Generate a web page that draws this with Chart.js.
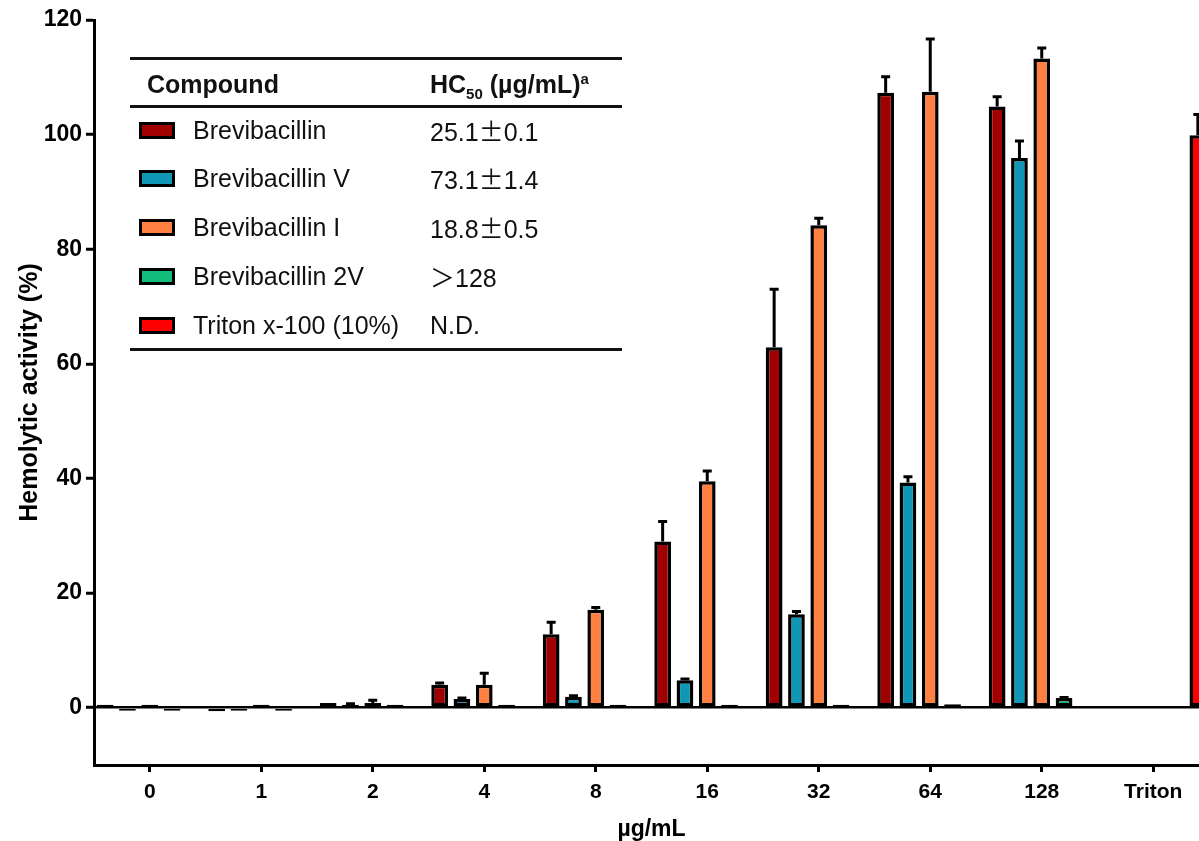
<!DOCTYPE html>
<html>
<head>
<meta charset="utf-8">
<script src="https://cdn.jsdelivr.net/npm/chart.js@4"></script>
<style>
  html, body { margin: 0; padding: 0; background: #fff; overflow: hidden; }
  #wrap { position: relative; width: 1199px; height: 841px; overflow: hidden; }
  #chart { position: absolute; left: 0; top: 0; }
  #legend { position: absolute; left: 130px; top: 57px; width: 492px; height: 300px;
            font-family: 'Liberation Sans', Arial, sans-serif; color: #111; }
  #legend .rule { position: absolute; left: 0; width: 492px; height: 3px; background: #111; }
  #legend .cell { position: absolute; height: 30px; line-height: 30px; white-space: nowrap; font-size: 25px; }
  #legend .head { font-weight: bold; }
  #legend .swatch { position: absolute; left: 9px; width: 36px; height: 17px; border: 3px solid #000; box-sizing: border-box; }
  #legend .cjk { font-family: 'Noto Sans CJK SC', sans-serif; }
  #legend sub, #legend sup { font-size: 15px; line-height: 0; }
</style>
</head>
<body>
<div id="wrap">
  <canvas id="chart" width="1209" height="841"></canvas>
  <div id="legend"></div>
</div>
<script>
// concentration groups (ug/mL)
const labels = ['0', '1', '2', '4', '8', '16', '32', '64', '128', 'Triton'];

// hemolytic activity (%)
const brevibacillin   = [0.05, -0.6, 0.8, 4.0, 12.8, 29.0, 62.9, 107.3, 104.9, null];
const brevibacillinV  = [-0.4, -0.1, 0.4, 1.5, 1.9, 4.8, 16.3, 39.3, 95.9, null];
const brevibacillinI  = [0.3, 0.1, 0.8, 4.0, 17.1, 39.5, 84.2, 107.5, 113.3, null];
const brevibacillin2V = [-0.1, -0.1, 0.1, 0.1, 0.2, 0.2, 0.4, 0.6, 1.7, null];
const triton          = [null, null, null, null, null, null, null, null, null, 99.9];

// SD (upper error bars)
const brevibacillinErr   = [0, 0, 0, 0.3, 2.1, 3.5, 10.1, 2.8, 1.7, 0];
const brevibacillinVErr  = [0, 0, 0.3, 0.2, 0.2, 0.2, 0.5, 1.0, 3.0, 0];
const brevibacillinIErr  = [0, 0, 0.5, 2.0, 0.4, 1.8, 1.2, 9.2, 1.8, 0];
const brevibacillin2VErr = [0, 0, 0, 0, 0, 0, 0, 0, 0.1, 0];
const tritonErr          = [0, 0, 0, 0, 0, 0, 0, 0, 0, 3.6];

const seriesNames = ['Brevibacillin', 'Brevibacillin V', 'Brevibacillin I', 'Brevibacillin 2V', 'Triton x-100 (10%)'];
const hc50Values = ['25.1<span class="cjk">±</span>0.1', '73.1<span class="cjk">±</span>1.4',
                    '18.8<span class="cjk">±</span>0.5', '<span class="cjk">＞</span>128', 'N.D.'];
const colors = ['#a00000', '#1197b6', '#ff8040', '#12bd7c', '#ff0000'];
const yTicks = [0, 20, 40, 60, 80, 100, 120];

const FONT = "'Liberation Sans', Arial, sans-serif";

// table-style legend in the corner
const legend = document.getElementById('legend');
let html = '';
html += '<div class="rule" style="top:0px"></div>';
html += '<div class="rule" style="top:48px"></div>';
html += '<div class="rule" style="top:291px"></div>';
html += '<div class="cell head" style="left:17px;top:12px">Compound</div>';
html += '<div class="cell head" style="left:300px;top:12px">HC<sub>50</sub> (µg/mL)<sup>a</sup></div>';
const rowCenters = [73, 121, 170, 219, 268];
seriesNames.forEach((name, i) => {
  const c = rowCenters[i];
  html += '<div class="swatch" style="top:' + (c - 8) + 'px;background:' + colors[i] + '"></div>';
  html += '<div class="cell" style="left:63px;top:' + (c - 15) + 'px">' + name + '</div>';
  html += '<div class="cell" style="left:300px;top:' + (c - 15) + 'px">' + hc50Values[i] + '</div>';
});
legend.innerHTML = html;

// upward (or downward for negatives) error bars with caps
const errorBars = {
  id: 'errorBars',
  afterDatasetsDraw(chart) {
    const ctx = chart.ctx;
    const yScale = chart.scales.y;
    ctx.save();
    ctx.strokeStyle = '#000';
    ctx.lineWidth = 3;
    chart.data.datasets.forEach((ds, i) => {
      const meta = chart.getDatasetMeta(i);
      meta.data.forEach((bar, j) => {
        const v = ds.data[j];
        const e = ds.errors[j];
        if (v == null || !e) return;
        const dir = v < 0 ? -1 : 1;
        const yEnd = yScale.getPixelForValue(v + dir * e);
        ctx.beginPath();
        ctx.moveTo(bar.x, bar.y);
        ctx.lineTo(bar.x, yEnd);
        ctx.moveTo(bar.x - 4.5, yEnd);
        ctx.lineTo(bar.x + 4.5, yEnd);
        ctx.stroke();
      });
    });
    ctx.restore();
  }
};

const seriesData = [brevibacillin, brevibacillinV, brevibacillinI, brevibacillin2V, triton];
const seriesErr = [brevibacillinErr, brevibacillinVErr, brevibacillinIErr, brevibacillin2VErr, tritonErr];

new Chart(document.getElementById('chart'), {
  type: 'bar',
  data: {
    labels: labels,
    datasets: seriesNames.map((name, i) => ({
      label: name,
      data: seriesData[i],
      errors: seriesErr[i],
      backgroundColor: colors[i],
      borderColor: '#000',
      borderWidth: 3.5,
      borderSkipped: false,
      minBarLength: 3,
      barPercentage: 0.75,
      categoryPercentage: 1.0
    }))
  },
  options: {
    responsive: false,
    animation: false,
    devicePixelRatio: 1,
    layout: { padding: { top: 20, right: 0, left: 0, bottom: 0 } },
    plugins: { legend: { display: false }, tooltip: { enabled: false } },
    scales: {
      x: {
        offset: true,
        afterFit: s => { s.height = 76; },
        border: { color: '#000', width: 3 },
        grid: { offset: false, drawOnChartArea: false, color: '#000', tickLength: 7, tickWidth: 3 },
        ticks: { color: '#000', maxRotation: 0, autoSkip: false, padding: 8,
                 font: { family: FONT, size: 21, weight: 'bold' } },
        title: { display: true, text: 'µg/mL', color: '#000', padding: { top: 0, bottom: 0 },
                 font: { family: FONT, size: 23, weight: 'bold', lineHeight: 1 } }
      },
      y: {
        min: -10,
        max: 120,
        afterBuildTicks: s => { s.ticks = yTicks.map(v => ({ value: v })); },
        afterFit: s => { s.width = 94; },
        border: { color: '#000', width: 3 },
        grid: {
          color: c => (c.tick && c.tick.value === 0 ? '#000' : 'rgba(0,0,0,0)'),
          lineWidth: 2.5,
          tickColor: '#000',
          tickLength: 8,
          tickWidth: 3
        },
        ticks: { color: '#000', padding: 4, font: { family: FONT, size: 23, weight: 'bold' } },
        title: { display: true, text: 'Hemolytic activity (%)', color: '#000', padding: { top: 15, bottom: 0 },
                 font: { family: FONT, size: 25, weight: 'bold' } }
      }
    }
  },
  plugins: [errorBars]
});
</script>
</body>
</html>
